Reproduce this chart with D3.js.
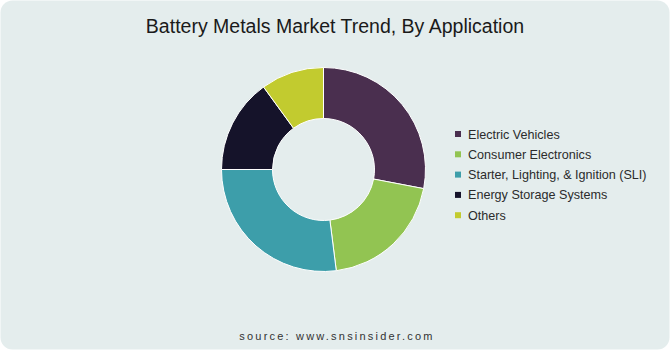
<!DOCTYPE html>
<html>
<head>
<meta charset="utf-8">
<script src="https://cdn.jsdelivr.net/npm/d3@7"></script>
<style>
  body { margin: 0; background: #fff; }
  svg { display: block; font-family: "Liberation Sans", Arial, sans-serif; }
</style>
</head>
<body>
<script>
var categories = ["Electric Vehicles", "Consumer Electronics", "Starter, Lighting, & Ignition (SLI)", "Energy Storage Systems", "Others"];
var shares = [28, 20, 27, 15, 10];
var colors = ["#4a2f4f", "#92c452", "#3d9eaa", "#15132a", "#c2cb2f"];

var width = 670, height = 350;

var svg = d3.select("body").append("svg")
    .attr("width", width).attr("height", height);

svg.append("rect")
    .attr("x", 0.5).attr("y", 0.5)
    .attr("width", width - 1).attr("height", height - 1)
    .attr("rx", 12).attr("ry", 12)
    .style("fill", "#e4eded");

svg.append("text")
    .attr("x", 335).attr("y", 33)
    .attr("text-anchor", "middle")
    .style("font-size", "19.5px")
    .style("fill", "#1a1a1a")
    .text("Battery Metals Market Trend, By Application");

var data = categories.map(function(c, i){ return {name: c, value: shares[i], color: colors[i]}; });

var pie = d3.pie().sort(null).value(function(d){ return d.value; });
var arc = d3.arc().innerRadius(51).outerRadius(102);

var chartGroup = svg.append("g")
    .attr("transform", "translate(323.5,169.5)");

chartGroup.selectAll("path")
    .data(pie(data))
    .enter().append("path")
    .attr("d", arc)
    .style("fill", function(d){ return d.data.color; })
    .style("stroke", "#ffffff")
    .style("stroke-width", 1);

var legend = svg.selectAll("g.legend")
    .data(data)
    .enter().append("g")
    .attr("class", "legend")
    .attr("transform", function(d, i){ return "translate(455," + (134 + i * 20.3) + ")"; });

legend.append("rect")
    .attr("x", 0).attr("y", -3)
    .attr("width", 6).attr("height", 6)
    .style("fill", function(d){ return d.color; });

legend.append("text")
    .attr("x", 13).attr("y", 4.5)
    .style("font-size", "12.6px")
    .style("fill", "#2b2b2b")
    .text(function(d){ return d.name; });

svg.append("text")
    .attr("x", 337).attr("y", 340)
    .attr("text-anchor", "middle")
    .style("font-size", "11px")
    .style("letter-spacing", "2.2px")
    .style("fill", "#333")
    .text("source: www.snsinsider.com");
</script>
</body>
</html>
